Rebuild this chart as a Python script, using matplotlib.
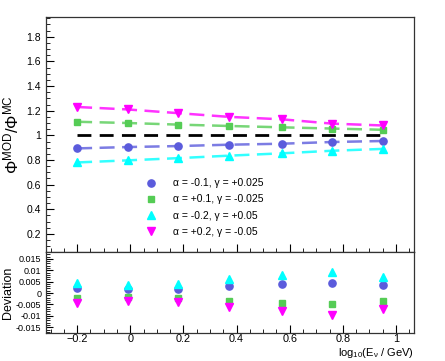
import matplotlib
matplotlib.use("Agg")
import matplotlib.pyplot as plt
from matplotlib.ticker import MultipleLocator, FuncFormatter

plt.rcParams['font.family'] = ['Liberation Sans', 'DejaVu Sans']
plt.rcParams['mathtext.fontset'] = 'custom'
plt.rcParams['mathtext.rm'] = 'Liberation Sans'
plt.rcParams['mathtext.it'] = 'Liberation Sans:italic'

# centres des bins en log10(E)
log_e = [-0.2, -0.01, 0.18, 0.37, 0.57, 0.76, 0.95]

ratio_a = [0.894, 0.905, 0.913, 0.924, 0.932, 0.946, 0.954]
ratio_b = [1.11, 1.10, 1.087, 1.076, 1.065, 1.055, 1.045]
ratio_c = [0.78, 0.797, 0.815, 0.835, 0.854, 0.875, 0.89]
ratio_d = [1.23, 1.21, 1.18, 1.15, 1.13, 1.095, 1.08]

dev_a = [0.002, 0.0016, 0.0018, 0.003, 0.004, 0.0046, 0.0035]
dev_b = [-0.002, -0.0017, -0.002, -0.0033, -0.0043, -0.0049, -0.0037]
dev_c = [0.0045, 0.0037, 0.004, 0.006, 0.008, 0.0094, 0.007]
dev_d = [-0.0045, -0.0037, -0.0041, -0.0062, -0.008, -0.0095, -0.007]

labels = ["\u03b1 = -0.1, \u03b3 = +0.025",
          "\u03b1 = +0.1, \u03b3 = -0.025",
          "\u03b1 = -0.2, \u03b3 = +0.05",
          "\u03b1 = +0.2, \u03b3 = -0.05"]

series = [
    (ratio_a, dev_a, '#5b5bdc', 'o', 5.2),
    (ratio_b, dev_b, '#55cc55', 's', 5.0),
    (ratio_c, dev_c, '#00ffff', '^', 5.6),
    (ratio_d, dev_d, '#ff00ff', 'v', 5.6),
]

fig = plt.figure(figsize=(4.45, 3.61), dpi=100)
ax = fig.add_axes([0.1034, 0.302, 0.827, 0.651])
ax2 = fig.add_axes([0.1034, 0.0776, 0.827, 0.2244], sharex=ax)

# ligne de référence
ax.plot([log_e[0], log_e[-1]], [1.0, 1.0], color='black', linestyle=(0, (5, 3)), linewidth=2)

handles = []
for (r, d, c, m, ms), lab in zip(series, labels):
    ax.plot(log_e, r, color=c, linestyle=(0, (6, 3)), linewidth=1.8, alpha=0.8)
    h, = ax.plot(log_e, r, color=c, linestyle='none', marker=m, markersize=ms, label=lab)
    handles.append(h)
    ax2.plot(log_e, d, color=c, linestyle='none', marker=m, markersize=ms)

ax.set_xlim(-0.317, 1.068)
ax.set_ylim(0.054, 1.96)
ax2.set_ylim(-0.0175, 0.018)

def fmt_plain(v, _):
    s = f"{v:.3f}".rstrip('0').rstrip('.')
    if s in ('-0', ''):
        s = '0'
    return s

ax.yaxis.set_major_locator(MultipleLocator(0.2))
ax.yaxis.set_minor_locator(MultipleLocator(0.05))
ax.yaxis.set_major_formatter(FuncFormatter(fmt_plain))
ax2.yaxis.set_major_locator(MultipleLocator(0.005))
ax2.yaxis.set_minor_locator(MultipleLocator(0.001))
ax2.yaxis.set_major_formatter(FuncFormatter(fmt_plain))
ax2.xaxis.set_major_locator(MultipleLocator(0.2))
ax2.xaxis.set_minor_locator(MultipleLocator(0.05))
ax2.xaxis.set_major_formatter(FuncFormatter(lambda v, _: fmt_plain(v, _).replace('-', '\u2212')))

for a in (ax, ax2):
    a.tick_params(which='both', direction='in', top=False, right=False, labelsize=7.5)
    a.tick_params(which='major', length=6, width=0.8)
    a.tick_params(which='minor', length=3, width=0.6)
    for sp in a.spines.values():
        sp.set_linewidth(0.9)
        sp.set_color('#333333')
ax.tick_params(axis='x', labelbottom=False)
ax2.tick_params(axis='y', labelsize=6.5, length=5)
ax2.tick_params(axis='x', labelsize=7.8, pad=1)

ax.set_ylabel(r"$\Phi^{\mathrm{MOD}}/\Phi^{\mathrm{MC}}$", fontsize=12, labelpad=4)
ax2.set_ylabel("Deviation", fontsize=9, labelpad=1)
ax2.set_xlabel("log$_{10}$(E$_{\\mathrm{\u03bd}}$ / GeV)", fontsize=8)
ax2.xaxis.set_label_coords(1.0, -0.16)
ax2.xaxis.label.set_horizontalalignment('right')
ax2.xaxis.label.set_verticalalignment('top')

ax.legend(handles=handles, loc='upper left', bbox_to_anchor=(0.245, 0.354), frameon=False,
          fontsize=7.5, handletextpad=1.6, labelspacing=0.6, handlelength=1.0)

fig.savefig("out.png", dpi=100)
